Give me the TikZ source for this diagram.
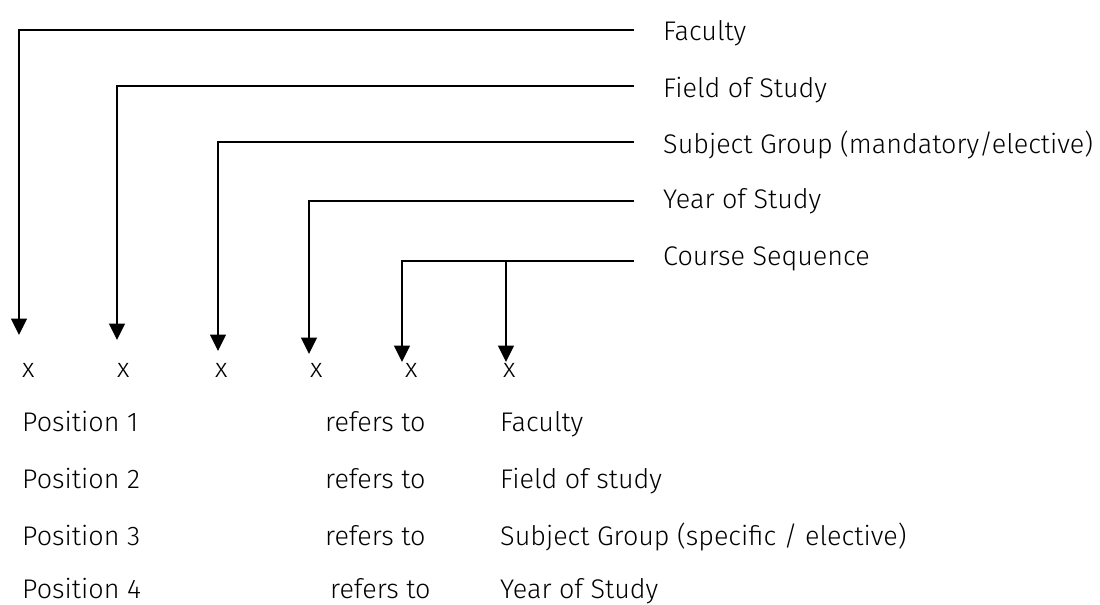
\documentclass[tikz,border=0pt]{standalone}
\usepackage{fontspec}
\newfontfamily\labelfont{Fira Sans Light}
\usetikzlibrary{arrows.meta}
\begin{document}
\begin{tikzpicture}[x=0.03cm, y=-0.03cm,
        font=\labelfont\fontsize{23}{27}\selectfont,
        conn/.style={line width=1.3pt, -{Triangle[length=14pt,width=13.5pt]}},
        lbl/.style={anchor=base west, inner sep=0pt}]
    \useasboundingbox (0,0) rectangle (1100,604);
    % labels on the right
    \node[lbl] (fac) at (663,40)  {Faculty};
    \node[lbl] (fld) at (663,97)  {Field of Study};
    \node[lbl] (sub) at (663,153) {Subject Group (mandatory/elective)};
    \node[lbl] (yr)  at (663,208) {Year of Study};
    \node[lbl] (seq) at (663,265) {Course Sequence};
    % line ends and arrow tips
    \coordinate (e1) at (634,30);
    \coordinate (e2) at (634,86);
    \coordinate (e3) at (634,142);
    \coordinate (e4) at (634,201);
    \coordinate (e5) at (634,261);
    \coordinate (t1) at (19,335);
    \coordinate (t2) at (117,340);
    \coordinate (t3) at (218,351);
    \coordinate (t4) at (309,354);
    \coordinate (t5) at (402,362);
    \coordinate (t6) at (506,362);
    % connectors
    \draw[conn] (e1) -| (t1);
    \draw[conn] (e2) -| (t2);
    \draw[conn] (e3) -| (t3);
    \draw[conn] (e4) -| (t4);
    \draw[conn] (e5) -| (t5);
    \draw[conn] (t6 |- e5) -- (t6);
    % code digits
    \foreach \i/\xx in {1/22,2/117,3/215,4/310,5/405,6/503}
        \node[lbl] (x\i) at (\xx,377) {x};
    % explanation rows
    \foreach \i/\yy/\rx/\txt in {1/431/325/Faculty, 2/488/325/Field of study,
            3/545/325/{Subject Group (specific / elective)}, 4/598/330/Year of Study} {
        \node[lbl] (pos\i) at (22,\yy) {Position \i};
        \node[lbl] (ref\i) at (\rx,\yy) {refers to};
        \node[lbl] (mean\i) at (500,\yy) {\txt};
    }
\end{tikzpicture}
\end{document}
